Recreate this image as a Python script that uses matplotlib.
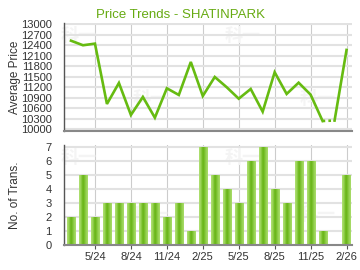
import matplotlib
matplotlib.use("Agg")
import matplotlib.pyplot as plt
import numpy as np
from matplotlib.colors import LinearSegmentedColormap

months = ["3/24","4/24","5/24","6/24","7/24","8/24","9/24","10/24","11/24","12/24",
          "1/25","2/25","3/25","4/25","5/25","6/25","7/25","8/25","9/25","10/25",
          "11/25","12/25","1/26","2/26"]
prices = [12530, 12400, 12446, 10723, 11323, 10409, 10923, 10331, 11171, 10980,
          11923, 10951, 11494, 11200, 10874, 11151, 10503, 11629, 11009, 11331,
          10989, 10237, 10250, 12266]
trans = [2, 5, 2, 3, 3, 3, 3, 3, 2, 3, 1, 7, 5, 4, 3, 6, 7, 4, 3, 6, 6, 1, 0, 5]
tick_labels = ["5/24", "8/24", "11/24", "2/25", "5/25", "8/25", "11/25", "2/26"]
price_ticks = [10000, 10300, 10600, 10900, 11200, 11500, 11800, 12100, 12400, 12700, 13000]

plt.rcParams['font.family'] = ['Liberation Sans', 'DejaVu Sans']
GREEN = '#66bb11'
TXT = '#333333'

fig = plt.figure(figsize=(3.6, 2.7), dpi=100)
ax1 = fig.add_axes([0.1786, 0.516, 0.799, 0.399])
ax2 = fig.add_axes([0.1786, 0.0937, 0.799, 0.369])

x = np.arange(len(months))
tick_pos = [months.index(t) for t in tick_labels]

for ax in (ax1, ax2):
    ax.set_xlim(-0.56, 23.45)
    for s in ('top', 'right'):
        ax.spines[s].set_visible(False)
    ax.spines['left'].set_color('#555555')
    ax.spines['left'].set_linewidth(1.0)
    ax.spines['bottom'].set_color('#888888')
    ax.spines['bottom'].set_linewidth(1.5)
    ax.set_xticks(tick_pos)
    for p in tick_pos:
        ax.axvline(p, color='#cccccc', lw=0.8, zorder=0)
    ax.tick_params(axis='y', length=0, pad=9, labelsize=8, labelcolor=TXT)
    ax.set_facecolor('white')
    for wx, wy in [(0.05, 0.88), (0.62, 0.88), (0.3, 0.3), (0.88, 0.3)]:
        ax.text(wx, wy, '科一', transform=ax.transAxes, fontsize=13, color='#f4f4f4',
                family=['Noto Sans CJK SC'], fontweight='bold', zorder=0, ha='center', va='center')

# price chart
ax1.set_ylim(9960, 13037)
ax1.set_yticks(price_ticks)
for v in price_ticks:
    ax1.axhline(v, color='#e2e2e2', lw=1.5, zorder=0)
ax1.tick_params(axis='x', length=0, labelbottom=False)
ax1.plot(x[:22], prices[:22], color=GREEN, lw=1.9, solid_joinstyle='miter', zorder=3)
ax1.plot(x[21:23], prices[21:23], color=GREEN, lw=1.9, ls=(0, (1, 1.2)), zorder=3)
ax1.plot(x[22:], prices[22:], color=GREEN, lw=1.9, zorder=3)
ax1.set_ylabel('Average Price', fontsize=8.5, color=TXT)
ax1.yaxis.set_label_coords(-0.152, 0.5)
fig.text(0.5, 0.944, 'Price Trends - SHATINPARK', fontsize=9.5, color='#66aa11',
         ha='center', va='center')

# transactions chart
ax2.set_ylim(0, 7.17)
ax2.set_yticks(range(0, 8))
for v in range(1, 8):
    ax2.axhline(v, color='#e2e2e2', lw=1.5, zorder=0)
ax2.tick_params(axis='x', length=3, color='#555555', labelsize=8, labelcolor=TXT, pad=2)
ax2.set_xticklabels(tick_labels)
bars = ax2.bar(x, trans, width=0.68, color='#9fd45a', zorder=2)
grad = np.array([[0.0, 0.25, 0.6, 1.0, 0.85, 0.55, 0.3, 0.1]])
cmap = LinearSegmentedColormap.from_list('g', ['#addf70', '#66b414'])
for b in bars:
    if b.get_height() <= 0:
        continue
    x0, w, h = b.get_x(), b.get_width(), b.get_height()
    im = ax2.imshow(grad, extent=(x0, x0 + w, 0, h), aspect='auto', cmap=cmap,
                    vmin=0, vmax=1, zorder=2.5, interpolation='bicubic')
    im.set_clip_path(b)
ax2.set_xlim(-0.56, 23.45)
ax2.set_ylim(0, 7.17)
ax2.set_ylabel('No. of Trans.', fontsize=8.5, color=TXT)
ax2.yaxis.set_label_coords(-0.152, 0.5)

fig.savefig('out.png', dpi=100)
